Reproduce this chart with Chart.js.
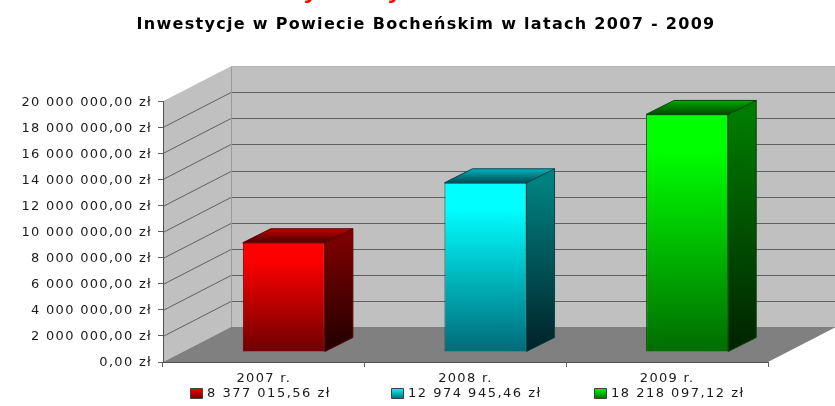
<!DOCTYPE html>
<html>
<head>
<meta charset="utf-8">
<script src="https://cdn.jsdelivr.net/npm/chart.js@4"></script>
<style>
    html, body { margin: 0; padding: 0; background: #fff; }
    #wrap { width: 835px; height: 406px; }
</style>
</head>
<body>
<div id="wrap"><canvas id="chart"></canvas></div>
<script>
const chartTitle = 'Inwestycje w Powiecie Bocheńskim w latach 2007 - 2009';
const categories = ['2007 r.', '2008 r.', '2009 r.'];
const amounts = [8377015.56, 12974945.46, 18218097.12];
const legendLabels = ['8 377 015,56 zł', '12 974 945,46 zł', '18 218 097,12 zł'];
const axisMax = 20000000;
const axisStep = 2000000;
// only the tails of a red heading line survive at the top edge of the picture
const croppedLetters = ['y', 'y'];
// [bright, front bottom, side top, side bottom, top back, top front, edge]
const barShades = [
    ['#ff0000', '#6e0000', '#7a0000', '#200000', '#c00000', '#4a0000', '#5a0000'],
    ['#00ffff', '#006a78', '#008080', '#002228', '#00b4bc', '#004a52', '#00484f'],
    ['#00ff00', '#006c00', '#007c00', '#002200', '#00a800', '#004a00', '#004800']
];

const LABEL_FONT = '13px "DejaVu Sans"';
const SPACING = '1.3px';
// how far the back wall sits behind the axes, and the bars behind the front edge
const wall = { dx: 68, dy: 35 };
const barShift = { dx: 20, dy: 10 };
const barDepth = { dx: 28, dy: 14 };

function formatTick(value) {
    return value === 0 ? '0,00 zł'
        : String(value).replace(/\B(?=(\d{3})+$)/g, ' ') + ',00 zł';
}

function poly(ctx, pts, fill, stroke) {
    ctx.beginPath();
    pts.forEach((p, i) => i ? ctx.lineTo(p[0], p[1]) : ctx.moveTo(p[0], p[1]));
    ctx.closePath();
    ctx.fillStyle = fill;
    ctx.fill();
    if (stroke) {
        ctx.strokeStyle = stroke;
        ctx.lineWidth = 1;
        ctx.stroke();
    }
}

function vGradient(ctx, y0, y1, stops) {
    const g = ctx.createLinearGradient(0, y0, 0, y1);
    stops.forEach(s => g.addColorStop(s[0], s[1]));
    return g;
}

// walls, floor and the receding grid, behind everything else
const wallsPlugin = {
    id: 'walls',
    beforeDraw(chart) {
        const ctx = chart.ctx;
        const { left, right, top, bottom } = chart.chartArea;
        const { dx, dy } = wall;
        const yScale = chart.scales.y;

        // title is centred over the whole plot including its depth
        chart.titleBlock.left = 17;
        chart.titleBlock.right = chart.width;

        ctx.save();
        poly(ctx, [[left, top], [left + dx, top - dy], [left + dx, bottom - dy], [left, bottom]], '#c0c0c0');
        poly(ctx, [[left + dx, top - dy], [chart.width, top - dy], [chart.width, bottom - dy], [left + dx, bottom - dy]], '#c0c0c0');
        poly(ctx, [[left, bottom], [left + dx, bottom - dy], [right + dx, bottom - dy], [right, bottom]], '#808080');

        ctx.strokeStyle = '#606060';
        ctx.lineWidth = 1;
        yScale.ticks.forEach(t => {
            if (t.value === 0 || t.value === axisMax) return;
            const y = Math.round(yScale.getPixelForValue(t.value)) + 0.5;
            ctx.beginPath();
            ctx.moveTo(left, y);
            ctx.lineTo(left + dx, y - dy);
            ctx.lineTo(chart.width, y - dy);
            ctx.stroke();
        });
        ctx.strokeStyle = '#9a9a9a';
        ctx.beginPath();
        ctx.moveTo(left + dx + 0.5, top - dy);
        ctx.lineTo(left + dx + 0.5, bottom - dy);
        ctx.stroke();
        ctx.strokeStyle = '#b0b0b0';
        ctx.beginPath();
        ctx.moveTo(left + dx, top - dy + 0.5);
        ctx.lineTo(chart.width, top - dy + 0.5);
        ctx.stroke();

        ctx.fillStyle = '#ff0000';
        ctx.font = 'bold 22px "DejaVu Sans"';
        ctx.textBaseline = 'alphabetic';
        croppedLetters.forEach((ch, i) => ctx.fillText(ch, 303 + i * 84, -1));
        ctx.restore();
        ctx.letterSpacing = SPACING;
    },
    // the front faces are library bars, moved back onto the floor
    beforeDatasetDraw(chart) {
        const ctx = chart.ctx;
        chart.getDatasetMeta(0).data.forEach((bar, i) => {
            const shade = barShades[i];
            const l = bar.x - bar.width / 2 + barShift.dx;
            const r = bar.x + bar.width / 2 + barShift.dx;
            const t = bar.y - barShift.dy;
            const b = bar.base - barShift.dy;
            const { dx, dy } = barDepth;
            poly(ctx, [[r, t], [r + dx, t - dy], [r + dx, b - dy], [r, b]],
                vGradient(ctx, t, b, [[0, shade[2]], [1, shade[3]]]), shade[6]);
            poly(ctx, [[l, t], [l + dx, t - dy], [r + dx, t - dy], [r, t]],
                vGradient(ctx, t - dy, t, [[0, shade[4]], [1, shade[5]]]), shade[6]);
        });
        ctx.save();
        ctx.translate(barShift.dx, -barShift.dy);
    },
    afterDatasetDraw(chart) {
        chart.ctx.restore();
    },
    afterDraw(chart) {
        const ctx = chart.ctx;
        const xScale = chart.scales.x;
        const nudge = [-3, 0.5, 2.3];
        ctx.save();
        ctx.font = LABEL_FONT;
        ctx.letterSpacing = '1.5px';
        ctx.textBaseline = 'middle';
        ctx.textAlign = 'left';
        legendLabels.forEach((text, i) => {
            const w = ctx.measureText(text).width;
            const cx = xScale.getPixelForTick(i) + nudge[i];
            const x0 = Math.round(cx - (w + 17) / 2);
            const shade = barShades[i];
            poly(ctx, [[x0 + 0.5, 388.5], [x0 + 12.5, 388.5], [x0 + 12.5, 398.5], [x0 + 0.5, 398.5]],
                vGradient(ctx, 388, 399, [[0, shade[0]], [1, shade[1]]]), '#404040');
            ctx.fillStyle = '#1a1a1a';
            ctx.fillText(text, x0 + 17, 393.5);
        });
        ctx.restore();
    }
};

new Chart(document.getElementById('chart').getContext('2d'), {
    type: 'bar',
    data: {
        labels: categories,
        datasets: [{
            data: amounts,
            barPercentage: 0.407,
            categoryPercentage: 1,
            borderWidth: 1,
            borderColor: context => barShades[context.dataIndex][6],
            backgroundColor(context) {
                const area = context.chart.chartArea;
                const shade = barShades[context.dataIndex];
                if (!area) return shade[0];
                const top = context.chart.scales.y.getPixelForValue(amounts[context.dataIndex]);
                return vGradient(context.chart.ctx, top, area.bottom, [[0, shade[0]], [0.15, shade[0]], [1, shade[1]]]);
            }
        }]
    },
    options: {
        responsive: true,
        maintainAspectRatio: false,
        animation: false,
        layout: { padding: { right: 67, bottom: 0, left: 0, top: 0 } },
        plugins: {
            legend: { display: false },
            tooltip: { enabled: false },
            title: {
                display: true,
                text: chartTitle,
                color: '#000',
                font: { family: '"DejaVu Sans"', size: 16, weight: 'bold' },
                padding: { top: 15, bottom: 67 }
            }
        },
        scales: {
            x: {
                afterFit(scale) { scale.height = 44; },
                grid: { drawOnChartArea: false, drawTicks: true, tickLength: 5, color: '#606060' },
                border: { color: '#505050' },
                ticks: { color: '#1a1a1a', font: { family: '"DejaVu Sans"', size: 13 }, padding: 4, maxRotation: 0 }
            },
            y: {
                min: 0,
                max: axisMax,
                afterFit(scale) { scale.width = 163; },
                grid: { drawOnChartArea: false, drawTicks: true, tickLength: 5, color: '#606060' },
                border: { color: '#505050' },
                ticks: {
                    stepSize: axisStep,
                    color: '#1a1a1a',
                    padding: 6,
                    labelOffset: 1,
                    font: { family: '"DejaVu Sans"', size: 13 },
                    callback: formatTick
                }
            }
        }
    },
    plugins: [wallsPlugin]
});
</script>
</body>
</html>
